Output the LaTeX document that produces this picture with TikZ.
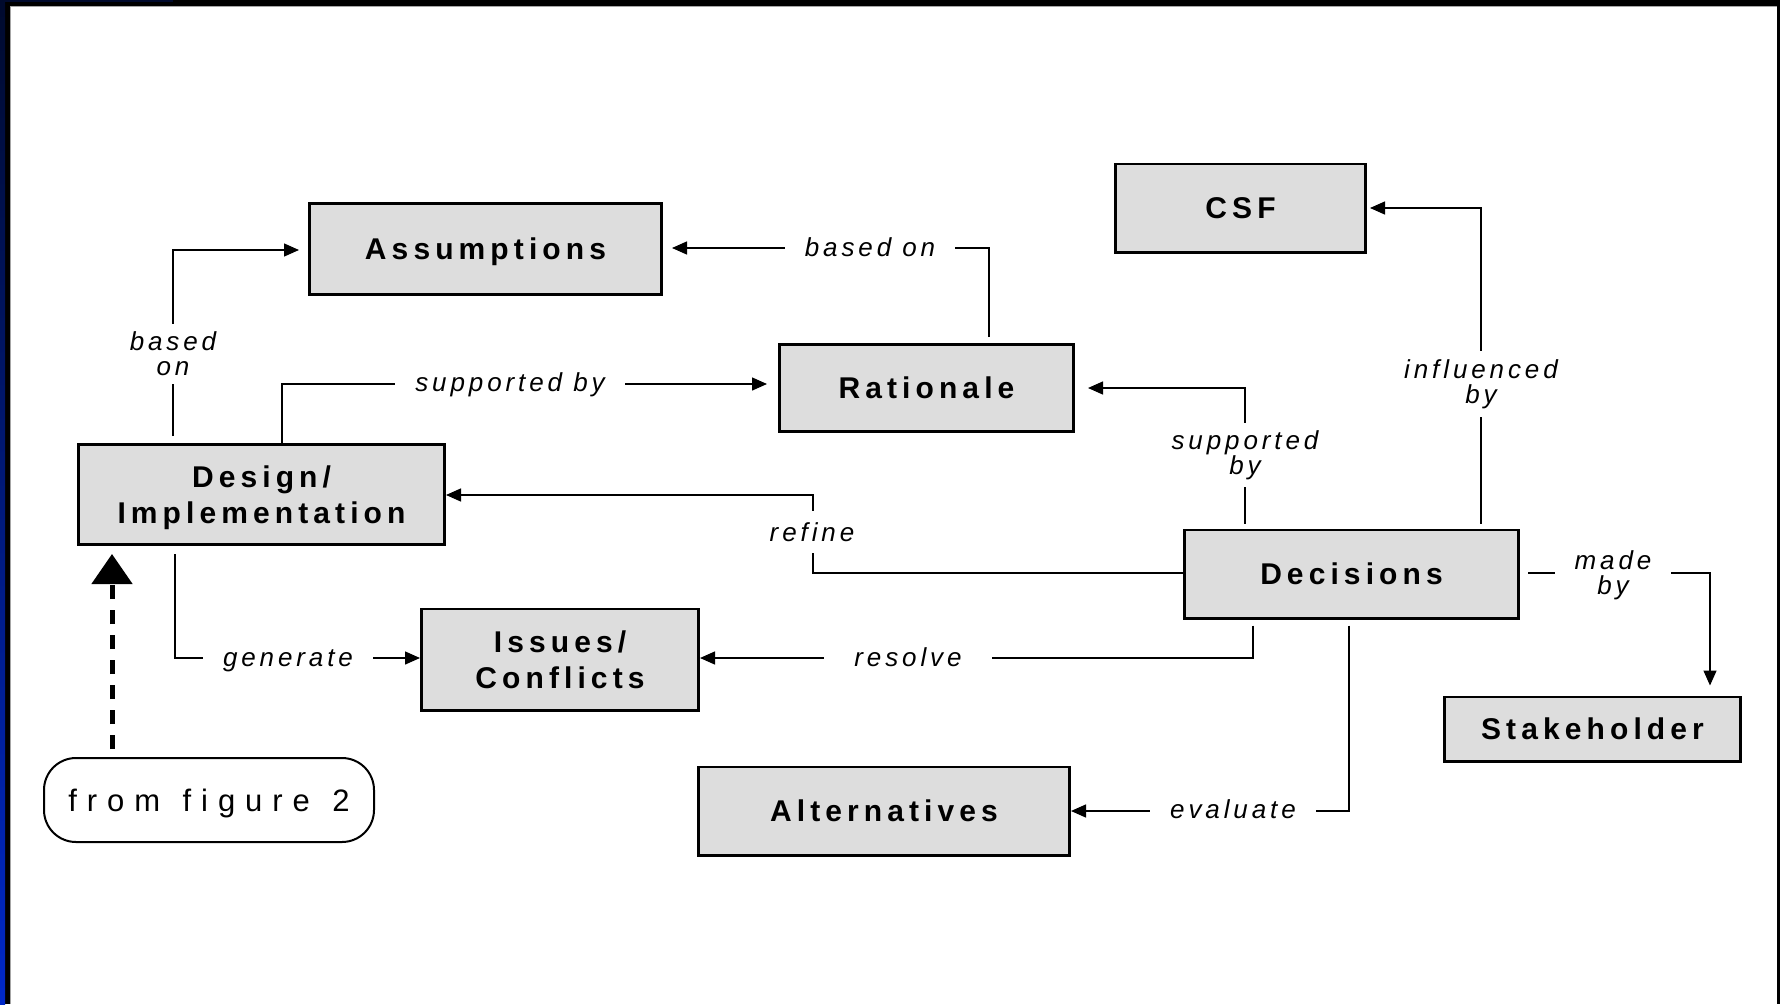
\documentclass[tikz,border=0pt]{standalone}
\usepackage{fontspec}
\setmainfont{Liberation Sans}
\newfontfamily\boxfont{Liberation Sans}[LetterSpace=17]
\newfontfamily\relfont{Liberation Sans}[LetterSpace=15]
\newfontfamily\notefont{Liberation Sans}[LetterSpace=32]
\usetikzlibrary{arrows.meta,calc}

\definecolor{boxgrey}{RGB}{221,221,221}
\definecolor{framenavy}{RGB}{0,10,45}
\definecolor{frameblue}{RGB}{0,40,200}

\begin{document}
\begin{tikzpicture}[x=1pt,y=-1pt,
  entity/.style={draw=black, line width=2.8pt, fill=boxgrey, inner sep=0pt,
    text depth=0pt, align=center, font=\boxfont\bfseries\fontsize{30}{36}\selectfont},
  rel/.style={fill=white, inner xsep=20pt, inner ysep=8pt, align=center,
    font=\relfont\itshape\fontsize{26}{25}\selectfont},
  link/.style={line width=1.4pt, draw=black},
  conn/.style={link, -{Triangle[length=15pt,width=13pt]}},
]
\useasboundingbox (0,0) rectangle (1780,1004);

% slide frame
\fill[black] (0,0) rectangle (1780,1004);
\shade[top color=framenavy, bottom color=frameblue] (0,0) rectangle (5,1004);
\fill[framenavy] (0,0) rectangle (173,2);
\fill[white] (10,6) rectangle (1777,1004);
\draw[black!35, line width=1pt] (10.5,1004) -- (10.5,6.5) -- (1777,6.5);

% entities
\node[entity, minimum width=352.2pt, minimum height=91.2pt] (assump) at (485.5,249) {Assumptions};
\node[entity, minimum width=294.2pt, minimum height=87.2pt] (rationale) at (926.5,388) {Rationale};
\node[entity, minimum width=250.2pt, minimum height=88.2pt] (csf) at (1240.5,208) {CSF};
\node[entity, minimum width=366.2pt, minimum height=100.2pt] (design) at (261.5,494.5) {Design/\\Implementation};
\node[entity, minimum width=334.2pt, minimum height=88.2pt] (decisions) at (1351.5,574) {Decisions};
\node[entity, minimum width=277.2pt, minimum height=101.2pt] (issues) at (560,659.5) {Issues/\\Conflicts};
\node[entity, minimum width=296.2pt, minimum height=64.2pt] (stake) at (1592.5,729) {Stakeholder};
\node[entity, minimum width=371.2pt, minimum height=88.2pt] (alt) at (884,811) {Alternatives};
\node[draw=black, line width=2pt, fill=white, rounded corners=32pt, inner sep=0pt,
  minimum width=330pt, minimum height=84pt, text depth=0pt,
  font=\notefont\fontsize{31}{36}\selectfont] (fig2) at (209,800)
  {from\hspace{4pt} figure\hspace{4pt} 2};

% relations
\draw[conn, shorten <=7pt, shorten >=9pt] (design.north -| 173,0) |- (assump.west |- 0,250)
  node[rel] at (173,354) {based\\on};
\draw[conn, shorten >=11pt] (design.north -| 282,0) |- (rationale.west |- 0,384)
  node[rel] at (510,385) {supported by};
\draw[conn, shorten <=6pt, shorten >=9pt] (rationale.north -| 989,0) |- (assump.east |- 0,248)
  node[rel] at (870,247) {based on};
\draw[conn, shorten <=5pt, shorten >=13pt] (decisions.north -| 1245,0) |- (rationale.east |- 0,388)
  node[rel, inner ysep=7pt] at (1245,455) {supported\\by};
\draw[conn, shorten <=5pt, shorten >=3pt] (decisions.north -| 1481,0) |- (csf.east |- 0,208)
  node[rel] at (1481,384) {influenced\\by};
\draw[conn] (decisions.west |- 0,573) -| (813,495) -- (design.east |- 0,495)
  node[rel, inner ysep=11pt] at (812,532) {refine};
\draw[conn, shorten <=6pt] (decisions.south -| 1253,0) |- (issues.east |- 0,658)
  node[rel, inner xsep=30pt] at (908,657) {resolve};
\draw[conn, shorten <=8pt] (design.south -| 175,0) |- (issues.west |- 0,658)
  node[rel] at (288,661) {generate};
\draw[conn, shorten <=6pt] (decisions.south -| 1349,0) |- (alt.east |- 0,811)
  node[rel] at (1233,809) {evaluate};
\draw[conn, shorten <=8pt, shorten >=10pt] (decisions.east |- 0,573) -| (stake.north -| 1710,0)
  node[rel] at (1613,575) {made\\by};

% incoming link from the previous figure
\draw[line width=5pt, dash pattern=on 14pt off 11pt, shorten <=8pt, shorten >=8pt,
  -{Triangle[length=30pt,width=40pt]}] (fig2.north -| 112,0) -- (design.south -| 112,0);
\end{tikzpicture}
\end{document}
